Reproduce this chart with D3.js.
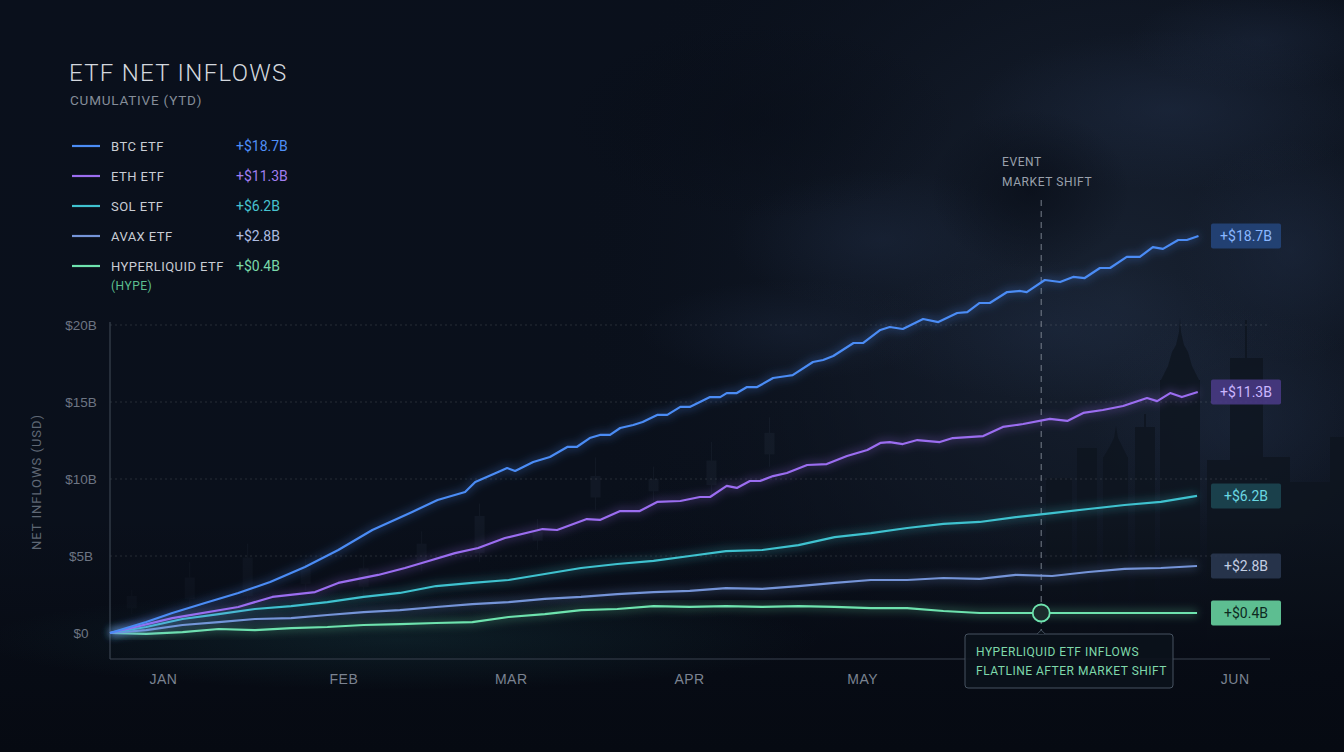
<!DOCTYPE html>
<html><head><meta charset="utf-8">
<script src="https://cdn.jsdelivr.net/npm/d3@7"></script>
<style>
html,body{margin:0;padding:0;background:#070c16;}
svg{display:block;font-family:Roboto,"Noto Sans",sans-serif;}
</style></head>
<body>
<svg id="chart" width="1344" height="752"></svg>
<script>
// ---- data (values in $B, x in day index from Jan 1) ----
const btcDays = [0,5,8.6,13.1,17.7,22.1,26.9,31.5,36.2,41.7,45.2,49,50.4,53.8,54.8,55.9,58.4,60.7,63.1,64.4,66.2,67.6,69,70.4,72.2,73.5,75.5,76.9,78.7,80,82.8,84.2,85.1,86.5,87.9,89.3,91.5,93.4,94.2,97,98.4,99.8,102.6,103.9,106.3,107.6,109.4,112.2,114.3,116.9,118.3,120,121.4,123.8,125.6,126.5,129,131.1,132.9,134.5,136.6,138,140.3,142.1,143.9,145.3,147.4,148.6,150.2];
const btcValues = [0,0.71,1.3,1.95,2.6,3.31,4.29,5.39,6.69,7.86,8.64,9.16,9.81,10.5,10.71,10.52,11.1,11.43,12.08,12.08,12.66,12.86,12.86,13.31,13.51,13.7,14.16,14.16,14.68,14.68,15.32,15.32,15.58,15.58,15.97,15.97,16.56,16.69,16.75,17.6,17.73,17.99,18.83,18.83,19.68,19.87,19.74,20.39,20.19,20.78,20.84,21.43,21.43,22.14,22.21,22.14,22.92,22.79,23.12,23.05,23.7,23.7,24.42,24.42,25.06,24.94,25.52,25.52,25.78];
const ethDays = [0,8.6,17.7,22.4,28.3,31.5,37,40.7,43.5,47.6,50.8,54.5,59.7,61.7,65.8,67.6,70.4,73.1,75.5,78.7,81.4,82.8,85.1,86.5,88.3,89.7,91.5,93.4,96.2,98.9,101.7,104.5,106.3,107.6,109.4,111.4,114.5,116.3,120.5,123.2,126,129.7,132.1,134.3,137,139.8,143.1,144.5,146.3,147.9,150.1];
const ethValues = [0,0.97,1.69,2.34,2.66,3.25,3.77,4.22,4.61,5.19,5.52,6.17,6.75,6.69,7.4,7.34,7.92,7.92,8.51,8.57,8.83,8.83,9.55,9.42,9.87,9.87,10.19,10.39,10.91,10.97,11.49,11.88,12.34,12.4,12.27,12.53,12.4,12.66,12.79,13.38,13.57,13.9,13.77,14.29,14.48,14.74,15.26,15.06,15.58,15.32,15.65];
const days = d3.range(0, 151, 5);
const sol  = [0,0.39,0.91,1.23,1.56,1.75,2.01,2.34,2.60,3.05,3.25,3.44,3.83,4.22,4.48,4.68,5.00,5.32,5.39,5.71,6.23,6.49,6.82,7.08,7.21,7.53,7.79,8.05,8.31,8.51,8.90];
const avax = [0,0.19,0.52,0.71,0.91,0.97,1.17,1.36,1.49,1.69,1.88,2.01,2.21,2.34,2.53,2.66,2.73,2.92,2.86,3.05,3.25,3.44,3.44,3.57,3.51,3.77,3.70,3.96,4.16,4.22,4.35];
const hype = [0,-0.06,0.06,0.26,0.19,0.32,0.39,0.52,0.58,0.65,0.71,1.04,1.23,1.49,1.56,1.75,1.69,1.75,1.69,1.75,1.69,1.62,1.62,1.43,1.30,1.30,1.30,1.30,1.30,1.30,1.30];

const seriesNames  = ["BTC ETF","ETH ETF","SOL ETF","AVAX ETF","HYPERLIQUID ETF"];
const seriesTotals = ["+$18.7B","+$11.3B","+$6.2B","+$2.8B","+$0.4B"];
const seriesDays   = [btcDays, ethDays, days, days, days];
const seriesValues = [btcValues, ethValues, sol, avax, hype];

const yTicks = [0,5,10,15,20];
const yTickLabels = ["$0","$5B","$10B","$15B","$20B"];
const monthLabels = ["JAN","FEB","MAR","APR","MAY","JUN"];
const monthDays   = [7.3,32.2,55.3,79.9,103.8,155.2];
const eventDay = 128.5;
const eventValue = 1.30;

// decorative background candlesticks (open, close, high, low in $B, day)
const candleDays  = [3,11,19,27,35,43,51,59,67,75,83,91];
const candleOpen  = [1.6,2.2,2.4,4.2,3.0,4.6,5.2,6.6,8.8,10.0,9.6,11.6];
const candleClose = [2.4,3.6,4.9,3.2,4.2,5.8,7.6,6.0,10.2,9.2,11.2,13.0];
const candleHigh  = [2.8,4.6,5.8,4.8,5.0,6.6,8.4,7.4,11.4,10.8,12.4,14.0];
const candleLow   = [1.2,1.8,1.9,2.6,2.4,4.0,4.6,5.4,8.0,8.6,9.0,10.8];

// ---- styles ----
const lineColors  = ["#4b8cf5","#9b6df0","#3fc2cf","#7594d8","#6ee3ae"];
const valueColors = ["#4f8ff7","#a17ef0","#47c3cf","#aebce0","#79d9a9"];
const boxFill     = ["#24467e","#4b3b88","#1c4853","#2b3a52","#62c898"];
const boxText     = ["#8ab7ff","#cbb6ff","#6ad8e2","#c3cee3","#0d2a1f"];

const svg = d3.select("#chart");
const W = 1344, H = 752;
const defs = svg.append("defs");

const bg = defs.append("linearGradient").attr("id","bg").attr("x1",0).attr("y1",0).attr("x2",1).attr("y2",1);
bg.append("stop").attr("offset","0%").attr("stop-color","#0a101c");
bg.append("stop").attr("offset","55%").attr("stop-color","#0a101b");
bg.append("stop").attr("offset","100%").attr("stop-color","#060a13");
const cloud = defs.append("radialGradient").attr("id","cloud").attr("gradientUnits","userSpaceOnUse")
  .attr("cx",1120).attr("cy",300).attr("r",560);
cloud.append("stop").attr("offset","0%").attr("stop-color","#192333").attr("stop-opacity",0.95);
cloud.append("stop").attr("offset","50%").attr("stop-color","#131b29").attr("stop-opacity",0.6);
cloud.append("stop").attr("offset","100%").attr("stop-color","#0a101b").attr("stop-opacity",0);
const blobLight = defs.append("radialGradient").attr("id","blobLight");
blobLight.append("stop").attr("offset","0%").attr("stop-color","#22304a").attr("stop-opacity",1);
blobLight.append("stop").attr("offset","100%").attr("stop-color","#22304a").attr("stop-opacity",0);
const blobDark = defs.append("radialGradient").attr("id","blobDark");
blobDark.append("stop").attr("offset","0%").attr("stop-color","#080d17").attr("stop-opacity",1);
blobDark.append("stop").attr("offset","100%").attr("stop-color","#080d17").attr("stop-opacity",0);
const bottomFade = defs.append("linearGradient").attr("id","bottomFade").attr("x1",0).attr("y1",0).attr("x2",0).attr("y2",1);
bottomFade.append("stop").attr("offset","0%").attr("stop-color","#070b14").attr("stop-opacity",0);
bottomFade.append("stop").attr("offset","60%").attr("stop-color","#070b14").attr("stop-opacity",0.9);
bottomFade.append("stop").attr("offset","100%").attr("stop-color","#060a12").attr("stop-opacity",1);
const tealGlow = defs.append("radialGradient").attr("id","tealGlow").attr("cx","0.5").attr("cy","0.5").attr("r","0.5");
tealGlow.append("stop").attr("offset","0%").attr("stop-color","#1f5a5e").attr("stop-opacity",0.22);
tealGlow.append("stop").attr("offset","100%").attr("stop-color","#1f5a5e").attr("stop-opacity",0);
const blur = defs.append("filter").attr("id","glow").attr("x","-5%").attr("y","-20%").attr("width","110%").attr("height","140%");
blur.append("feGaussianBlur").attr("stdDeviation",4);

svg.append("rect").attr("width",W).attr("height",H).attr("fill","url(#bg)");
svg.append("rect").attr("width",W).attr("height",H).attr("fill","url(#cloud)");
// diffuse cloud patches: [cx, cy, rx, ry, opacity, light?]
const cloudBlobs = [
  [1170,110,200,80,0.45,1],[880,240,150,70,0.35,1],[1290,250,110,110,0.4,1],
  [1060,330,200,70,0.35,1],[790,330,150,50,0.3,1],[1260,40,130,50,0.35,1],
  [1240,420,150,110,0.4,1],[1030,190,100,80,0.7,0],[760,120,200,100,0.5,0]
];
svg.append("g").selectAll("ellipse").data(cloudBlobs).join("ellipse")
  .attr("cx",d=>d[0]).attr("cy",d=>d[1]).attr("rx",d=>d[2]).attr("ry",d=>d[3])
  .attr("fill",d=>d[5]?"url(#blobLight)":"url(#blobDark)").attr("opacity",d=>d[4]);

// scales
const x = d3.scaleLinear().domain([0,160]).range([110,1269.5]);
const y = d3.scaleLinear().domain([0,20]).range([633,325]);
const yBottom = 659;

// skyline silhouettes (decorative)
const skyline = [
  [1046,1072,478],[1077,1097,448],[1103,1128,457],[1135,1155,427],[1160,1200,380],
  [1207,1230,460],[1230,1263,358],[1263,1290,457],[1290,1330,482],[1330,1344,437]
];
const sk = svg.append("g").attr("fill","#0e151f").attr("opacity",0.8);
sk.selectAll("rect").data(skyline).join("rect")
  .attr("x",d=>d[0]).attr("y",d=>d[2]).attr("width",d=>d[1]-d[0]).attr("height",d=>640-d[2]);
sk.append("path").attr("d","M1160,382 L1168,366 L1172,352 L1176,345 L1179,332 L1180,318 L1181,332 L1184,345 L1188,352 L1192,366 L1200,382 Z");
sk.append("path").attr("d","M1103,458 L1110,446 L1114,438 L1116,426 L1118,438 L1122,446 L1128,458 Z");
sk.append("rect").attr("x",1245).attr("y",320).attr("width",2).attr("height",40);
sk.append("rect").attr("x",1144).attr("y",414).attr("width",2).attr("height",14);

// background candles
const cg = svg.append("g").attr("opacity",0.08);
candleDays.forEach((d,i)=>{
  cg.append("line").attr("x1",x(d)).attr("x2",x(d)).attr("y1",y(candleHigh[i])).attr("y2",y(candleLow[i]))
    .attr("stroke","#6a7c95").attr("stroke-width",1);
  cg.append("rect").attr("x",x(d)-5).attr("width",10)
    .attr("y",y(Math.max(candleOpen[i],candleClose[i])))
    .attr("height",Math.abs(y(candleOpen[i])-y(candleClose[i])))
    .attr("fill","#6a7c95");
});

svg.append("rect").attr("x",0).attr("y",520).attr("width",W).attr("height",232).attr("fill","url(#bottomFade)");
svg.append("ellipse").attr("cx",400).attr("cy",640).attr("rx",420).attr("ry",50).attr("fill","url(#tealGlow)");

// gridlines
svg.append("g").selectAll("line").data(yTicks.filter(t=>t>0)).join("line")
  .attr("x1",110).attr("x2",1270).attr("y1",d=>y(d)).attr("y2",d=>y(d))
  .attr("stroke","#ffffff").attr("stroke-opacity",0.12).attr("stroke-dasharray","2,3");

// axes
const yAxis = d3.axisLeft(y).tickValues(yTicks).tickFormat((d,i)=>yTickLabels[i]).tickSize(0).tickPadding(29);
const gy = svg.append("g").attr("transform","translate(110,0)").call(yAxis);
gy.select(".domain").remove();
gy.selectAll("text").attr("fill","#6d7583").attr("font-size",13.5).attr("text-anchor","middle");
svg.append("line").attr("x1",110).attr("x2",110).attr("y1",322).attr("y2",yBottom).attr("stroke","#3a4350").attr("stroke-width",1.2);

const xAxis = d3.axisBottom(x).tickValues(monthDays).tickFormat((d,i)=>monthLabels[i]).tickSize(0).tickPadding(15);
const gx = svg.append("g").attr("transform",`translate(0,${yBottom})`).call(xAxis);
gx.select(".domain").remove();
gx.selectAll("text").attr("fill","#7b8391").attr("font-size",14).attr("letter-spacing","0.5px");
svg.append("line").attr("x1",110).attr("x2",1270).attr("y1",yBottom).attr("y2",yBottom).attr("stroke","#3a4350").attr("stroke-width",1.2);

svg.append("text").attr("transform","translate(41,482) rotate(-90)").attr("text-anchor","middle")
  .attr("fill","#5f6774").attr("font-size",13).attr("letter-spacing","1px").text("NET INFLOWS (USD)");

// event line
svg.append("line").attr("x1",x(eventDay)).attr("x2",x(eventDay)).attr("y1",200).attr("y2",640)
  .attr("stroke","#8a929e").attr("stroke-opacity",0.7).attr("stroke-width",1.2).attr("stroke-dasharray","6,5");
svg.append("text").attr("x",1002).attr("y",166).attr("fill","#9aa1ac").attr("font-size",12).attr("letter-spacing","0.6px").text("EVENT");
svg.append("text").attr("x",1002).attr("y",186).attr("fill","#9aa1ac").attr("font-size",12).attr("letter-spacing","0.6px").text("MARKET SHIFT");

// lines
const lg = svg.append("g");
for (let i = seriesValues.length-1; i >= 0; i--) {
  const dd = seriesDays[i];
  const lineGen = d3.line().x((d,j)=>x(dd[j])).y(d=>y(d));
  lg.append("path").datum(seriesValues[i]).attr("d",lineGen).attr("fill","none").attr("stroke",lineColors[i])
    .attr("stroke-width",6).attr("stroke-opacity",0.3).attr("filter","url(#glow)");
  lg.append("path").datum(seriesValues[i]).attr("d",lineGen).attr("fill","none").attr("stroke",lineColors[i])
    .attr("stroke-width",2.2).attr("stroke-linejoin","round");
}

// event marker
svg.append("circle").attr("cx",x(eventDay)).attr("cy",y(eventValue)).attr("r",8.5)
  .attr("fill","#1b2b2c").attr("stroke","#6ee3ae").attr("stroke-width",1.8);

// annotation box
const ax = 965, ay = 634, aw = 208, ah = 54;
svg.append("rect").attr("x",ax).attr("y",ay).attr("width",aw).attr("height",ah).attr("rx",3)
  .attr("fill","#0b121b").attr("fill-opacity",0.9).attr("stroke","#465260").attr("stroke-width",1);
svg.append("path").attr("d",`M${x(eventDay)-4},${ay} L${x(eventDay)},${ay-4} L${x(eventDay)+4},${ay}`)
  .attr("fill","#0b121b").attr("stroke","#465260");
svg.append("text").attr("x",976).attr("y",656).attr("fill","#7fd9ab").attr("font-size",12).attr("letter-spacing","0.5px").text("HYPERLIQUID ETF INFLOWS");
svg.append("text").attr("x",976).attr("y",675).attr("fill","#7fd9ab").attr("font-size",12).attr("letter-spacing","0.5px").text("FLATLINE AFTER MARKET SHIFT");

// end labels
seriesValues.forEach((s,i)=>{
  const yy = y(s[s.length-1]);
  const g = svg.append("g");
  g.append("rect").attr("x",1211).attr("y",yy-12.5).attr("width",70).attr("height",25).attr("rx",2)
    .attr("fill",boxFill[i]).attr("fill-opacity",i===4?0.95:0.85);
  g.append("text").attr("x",1246).attr("y",yy+5).attr("text-anchor","middle")
    .attr("fill",boxText[i]).attr("font-size",14).text(seriesTotals[i]);
});

// title & legend
svg.append("text").attr("x",69).attr("y",81).attr("fill","#d4d8de").attr("font-size",24).attr("font-weight",300)
  .attr("letter-spacing","1.3px").text("ETF NET INFLOWS");
svg.append("text").attr("x",70).attr("y",105).attr("fill","#858d99").attr("font-size",13.5).attr("letter-spacing","0.8px")
  .text("CUMULATIVE (YTD)");
const leg = svg.append("g");
seriesNames.forEach((n,i)=>{
  const ly = 146 + i*30;
  leg.append("line").attr("x1",72).attr("x2",100).attr("y1",ly).attr("y2",ly).attr("stroke",lineColors[i]).attr("stroke-width",2.2);
  leg.append("text").attr("x",111).attr("y",ly+5).attr("fill","#c9cdd4").attr("font-size",13).attr("letter-spacing","0.45px").text(n);
  leg.append("text").attr("x",236).attr("y",ly+5).attr("fill",valueColors[i]).attr("font-size",14).text(seriesTotals[i]);
});
leg.append("text").attr("x",111).attr("y",290).attr("fill","#5cbf8f").attr("font-size",12).attr("letter-spacing","0.5px").text("(HYPE)");
</script>
</body></html>
